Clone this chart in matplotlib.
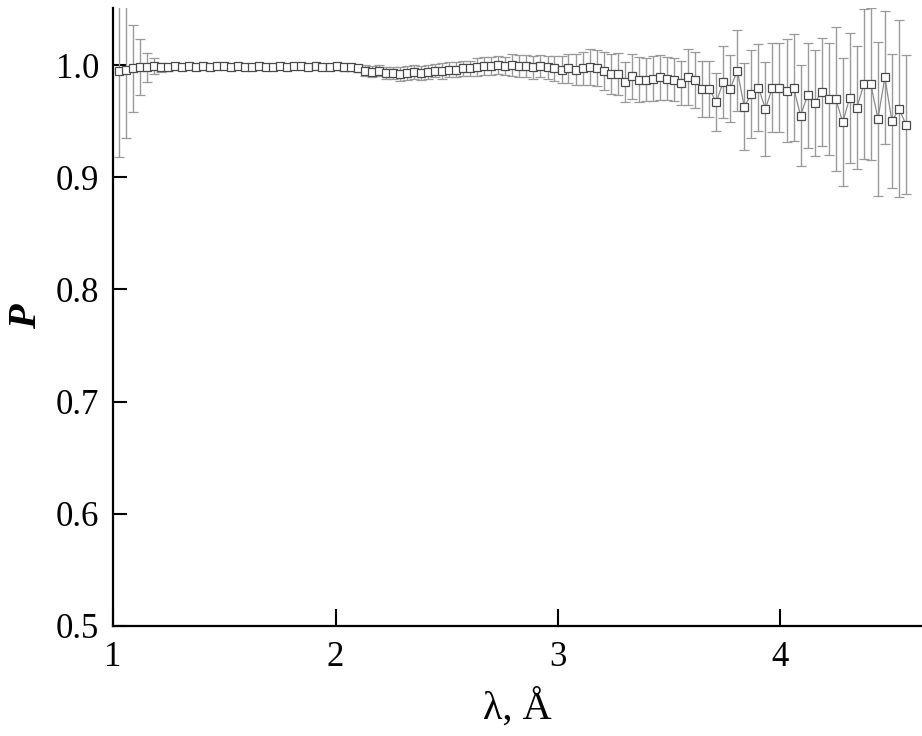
import matplotlib
matplotlib.use("Agg")
import matplotlib.pyplot as plt

plt.rcParams["font.family"] = ["Liberation Serif", "DejaVu Serif"]
plt.rcParams["mathtext.fontset"] = "stix"

# wavelength grid, A
lam = [1.025, 1.057, 1.088, 1.120, 1.151, 1.183, 1.215, 1.246, 1.278, 1.309,
       1.341, 1.373, 1.404, 1.436, 1.467, 1.499, 1.531, 1.562, 1.594, 1.625,
       1.657, 1.689, 1.720, 1.752, 1.783, 1.815, 1.847, 1.878, 1.910, 1.941,
       1.973, 2.005, 2.036, 2.068, 2.099, 2.131, 2.163, 2.194, 2.226, 2.257,
       2.289, 2.321, 2.352, 2.384, 2.415, 2.447, 2.479, 2.510, 2.542, 2.573,
       2.605, 2.637, 2.668, 2.700, 2.731, 2.763, 2.795, 2.826, 2.858, 2.889,
       2.921, 2.953, 2.984, 3.016, 3.047, 3.079, 3.111, 3.142, 3.174, 3.205,
       3.237, 3.269, 3.300, 3.332, 3.363, 3.395, 3.427, 3.458, 3.490, 3.521,
       3.553, 3.585, 3.616, 3.648, 3.679, 3.711, 3.743, 3.774, 3.806, 3.837,
       3.869, 3.901, 3.932, 3.964, 3.995, 4.027, 4.059, 4.090, 4.122, 4.153,
       4.185, 4.217, 4.248, 4.280, 4.311, 4.343, 4.375, 4.406, 4.438, 4.469,
       4.501, 4.533, 4.564]

P = [0.995, 0.996, 0.997, 0.998, 0.998, 0.999, 0.998, 0.998, 0.999, 0.998,
     0.999, 0.998, 0.999, 0.998, 0.999, 0.999, 0.998, 0.999, 0.998, 0.998,
     0.999, 0.998, 0.998, 0.999, 0.998, 0.999, 0.999, 0.998, 0.999, 0.998,
     0.998, 0.999, 0.998, 0.998, 0.997, 0.995, 0.994, 0.995, 0.993, 0.993,
     0.992, 0.993, 0.994, 0.993, 0.994, 0.995, 0.995, 0.996, 0.996, 0.997,
     0.997, 0.998, 0.999, 0.999, 1.000, 0.999, 1.000, 0.999, 0.999, 0.998,
     0.999, 0.998, 0.997, 0.996, 0.997, 0.996, 0.997, 0.998, 0.997, 0.995,
     0.992, 0.992, 0.985, 0.990, 0.987, 0.987, 0.988, 0.989, 0.988, 0.987,
     0.984, 0.989, 0.987, 0.979, 0.979, 0.967, 0.985, 0.979, 0.995, 0.963,
     0.974, 0.980, 0.961, 0.980, 0.980, 0.977, 0.980, 0.955, 0.973, 0.966,
     0.976, 0.970, 0.970, 0.949, 0.971, 0.962, 0.983, 0.983, 0.952, 0.989,
     0.950, 0.961, 0.947]

P_err = [0.077, 0.061, 0.039, 0.025, 0.013, 0.007, 0.004, 0.003, 0.002, 0.002,
         0.002, 0.002, 0.002, 0.002, 0.002, 0.002, 0.002, 0.002, 0.002, 0.002,
         0.002, 0.002, 0.002, 0.002, 0.002, 0.002, 0.002, 0.002, 0.002, 0.002,
         0.002, 0.003, 0.003, 0.003, 0.003, 0.005, 0.005, 0.005, 0.005, 0.005,
         0.006, 0.006, 0.006, 0.006, 0.006, 0.006, 0.007, 0.007, 0.007, 0.007,
         0.007, 0.008, 0.008, 0.008, 0.008, 0.008, 0.010, 0.010, 0.010, 0.010,
         0.010, 0.010, 0.011, 0.012, 0.013, 0.014, 0.015, 0.016, 0.016, 0.017,
         0.018, 0.019, 0.018, 0.020, 0.020, 0.019, 0.020, 0.020, 0.019, 0.019,
         0.020, 0.025, 0.025, 0.025, 0.025, 0.026, 0.032, 0.030, 0.036, 0.039,
         0.039, 0.039, 0.042, 0.040, 0.040, 0.046, 0.048, 0.045, 0.047, 0.047,
         0.048, 0.050, 0.064, 0.057, 0.058, 0.055, 0.067, 0.068, 0.069, 0.059,
         0.060, 0.079, 0.062]

xticks = [1, 2, 3, 4]
yticks = [0.5, 0.6, 0.7, 0.8, 0.9, 1.0]

fig = plt.figure(figsize=(9.22, 7.36), dpi=100)
ax = fig.add_axes([0.1226, 0.1495, 0.8774, 0.8395])

ax.errorbar(lam, P, yerr=P_err, fmt="s-", color="#8a8a8a", lw=0.9,
            ecolor="#9a9a9a", elinewidth=1.0, capsize=3.6, capthick=1.0,
            ms=5.2, mfc="white", mec="#4a4a4a", mew=0.9)

ax.set_xlim(1.0, 4.636)
ax.set_ylim(0.5, 1.0508)
ax.set_xticks(xticks)
ax.set_xticklabels([str(t) for t in xticks])
ax.set_yticks(yticks)
ax.set_yticklabels([f"{t:.1f}" for t in yticks])

for s in ["top", "right"]:
    ax.spines[s].set_visible(False)
for s in ["left", "bottom"]:
    ax.spines[s].set_linewidth(1.6)

ax.tick_params(axis="both", direction="in", width=1.5, labelsize=25)
ax.tick_params(axis="y", length=10, pad=10)
ax.tick_params(axis="x", length=12, pad=11)

ax.set_xlabel("λ, Å", fontsize=29, labelpad=10)
ax.set_ylabel("P", fontsize=29, fontweight="bold", fontstyle="italic", labelpad=8)

fig.savefig("out.png", dpi=100)
